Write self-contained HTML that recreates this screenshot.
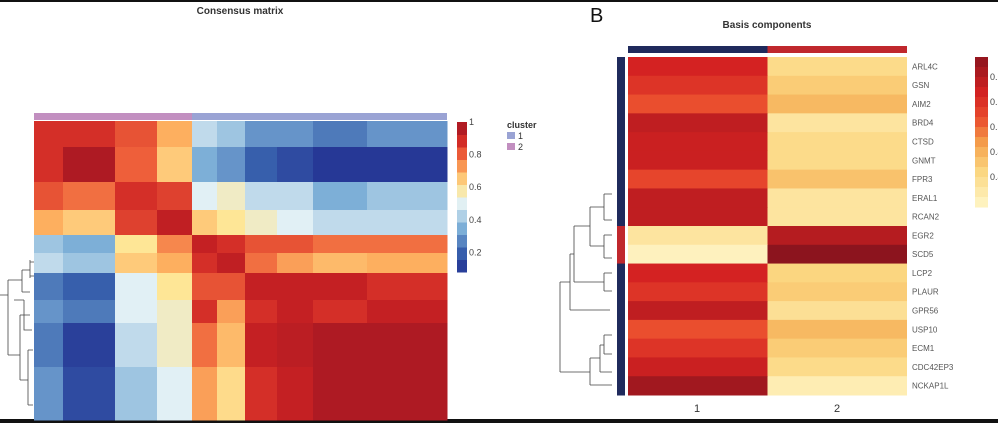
<!DOCTYPE html>
<html><head><meta charset="utf-8">
<style>
html,body{margin:0;padding:0;background:#fff;}
svg{display:block;font-family:"Liberation Sans",Arial,sans-serif;}
</style></head>
<body>
<svg id="fig" width="998" height="423" viewBox="0 0 998 423">
<rect x="0" y="0" width="998" height="2" fill="#111"/>
<rect x="0" y="419" width="998" height="4" fill="#111"/>
<text x="240" y="14" font-size="10" font-weight="bold" text-anchor="middle" fill="#333">Consensus matrix</text>
<g id="cm"></g>
<g id="cmdend" stroke="#444" stroke-width="0.8" fill="none">
<path d="M0,295 H8 M8,280 V355 M8,280 H22 M22,270 V292 M22,270 H30 M22,292 H30 M8,355 H20 M20,315 V380 M20,315 H30 M20,380 H28 M28,350 V405 M28,350 H33 M28,405 H33 M14,300 H24 M24,300 V330 H32 M30,260 V278 M30,262 H34 M30,276 H34"/>
</g>
<g id="cmlegend"></g>
<text x="507" y="128" font-size="9" font-weight="bold" fill="#333">cluster</text>
<rect x="507" y="132" width="8" height="7" fill="#9aa3d4"/>
<text x="518" y="139" font-size="9" fill="#333">1</text>
<rect x="507" y="143" width="8" height="7" fill="#c28fc0"/>
<text x="518" y="150" font-size="9" fill="#333">2</text>

<text x="590" y="22" font-size="20" fill="#111">B</text>
<text x="767" y="28" font-size="10" font-weight="bold" text-anchor="middle" fill="#333">Basis components</text>
<g id="bc"></g>
<g id="bcdend" stroke="#444" stroke-width="0.8" fill="none">
<path d="M604,194 V220 M604,194 H612 M604,220 H612 M604,235 V258 M604,235 H612 M604,258 H612 M590,207 V246 M590,207 H604 M590,246 H604 M604,273 V291 M604,273 H612 M604,291 H612 M574,226 V282 M574,226 H590 M574,282 H604 M570,254 V310 M570,254 H574 M570,310 H610 M604,335 V354 M604,335 H612 M604,354 H612 M600,345 V372 M600,345 H604 M600,372 H612 M590,358 V385 M590,358 H600 M590,385 H612 M560,282 V372 M560,282 H570 M560,372 H590"/>
</g>
<g id="bclegend"></g>
<text x="697" y="412" font-size="11" text-anchor="middle" fill="#333">1</text>
<text x="837" y="412" font-size="11" text-anchor="middle" fill="#333">2</text>
</svg>
<script>
// ---- Consensus matrix data ----
const cmColEdges = [34,63,115,157,192,217,245,277,313,367,447];
const cmRowEdges = [121,147,182,210,235,253,273,300,323,367,420];
const cmRow0 = [0.88,0.88,0.82,0.7,0.45,0.4,0.3,0.3,0.25,0.3];
const cmRow1 = [0.88,0.97,0.8,0.65,0.35,0.3,0.2,0.15,0.1,0.1];
const cmRow2 = [0.82,0.78,0.88,0.85,0.5,0.55,0.45,0.45,0.35,0.4];
const cmRow3 = [0.7,0.65,0.85,0.93,0.65,0.6,0.55,0.5,0.45,0.45];
const cmRow4 = [0.4,0.35,0.6,0.75,0.92,0.88,0.82,0.82,0.78,0.78];
const cmRow5 = [0.45,0.4,0.65,0.7,0.88,0.93,0.78,0.72,0.68,0.7];
const cmRow6 = [0.25,0.2,0.5,0.6,0.82,0.82,0.92,0.92,0.92,0.88];
const cmRow7 = [0.3,0.25,0.5,0.55,0.88,0.72,0.88,0.92,0.88,0.92];
const cmRow8 = [0.25,0.12,0.45,0.55,0.78,0.68,0.92,0.94,0.97,0.97];
const cmRow9 = [0.3,0.15,0.4,0.5,0.72,0.62,0.88,0.92,0.97,0.97];
const cmMatrix = [cmRow0,cmRow1,cmRow2,cmRow3,cmRow4,cmRow5,cmRow6,cmRow7,cmRow8,cmRow9];
const cmTicks = [1,0.8,0.6,0.4,0.2];
const cmTickLabels = ["1","0.8","0.6","0.4","0.2"];
// ---- Basis components data ----
const genes = ["ARL4C","GSN","AIM2","BRD4","CTSD","GNMT","FPR3","ERAL1","RCAN2","EGR2","SCD5","LCP2","PLAUR","GPR56","USP10","ECM1","CDC42EP3","NCKAP1L"];
const basis1 = [0.6,0.58,0.55,0.62,0.61,0.61,0.56,0.62,0.62,0.42,0.39,0.6,0.58,0.62,0.55,0.58,0.61,0.65];
const basis2 = [0.44,0.46,0.48,0.42,0.44,0.44,0.47,0.42,0.42,0.63,0.67,0.45,0.46,0.43,0.48,0.46,0.44,0.40];
const geneGroup = [1,1,1,1,1,1,1,1,1,2,2,1,1,1,1,1,1,1];
const bcTickLabels = ["0.6","0.5","0.5","0.4","0.4"];

const NS="http://www.w3.org/2000/svg";
function mk(tag,attrs,parent){const e=document.createElementNS(NS,tag);for(const k in attrs)e.setAttribute(k,attrs[k]);parent.appendChild(e);return e;}
function lerp(a,b,t){return a+(b-a)*t;}
function scale(stops,v){
  if(v<=stops[0][0])return stops[0][1];
  for(let i=1;i<stops.length;i++){if(v<=stops[i][0]){const t=(v-stops[i-1][0])/(stops[i][0]-stops[i-1][0]);const a=stops[i-1][1],b=stops[i][1];return [Math.round(lerp(a[0],b[0],t)),Math.round(lerp(a[1],b[1],t)),Math.round(lerp(a[2],b[2],t))];}}
  return stops[stops.length-1][1];
}
function toRgb(c){return `rgb(${c[0]},${c[1]},${c[2]})`;}
const cmStops=[[0.08,[35,48,145]],[0.2,[55,95,172]],[0.35,[125,175,215]],[0.5,[225,240,245]],[0.6,[254,230,150]],[0.7,[253,175,95]],[0.8,[238,95,58]],[0.9,[205,35,35]],[1.0,[160,22,35]]];
function cmColor(v){return toRgb(scale(cmStops,v));}

const cm=document.getElementById('cm');
let ab=mk('rect',{x:34,y:113,width:158,height:7,fill:'#c28fc0'},cm);


ab=mk('rect',{x:192,y:113,width:255,height:7,fill:'#9aa3d4'},cm);


for(let r=0;r<cmMatrix.length;r++){
  for(let c=0;c<cmMatrix[r].length;c++){
    const el=mk('rect',{x:cmColEdges[c],y:cmRowEdges[r],width:cmColEdges[c+1]-cmColEdges[c]+0.5,height:cmRowEdges[r+1]-cmRowEdges[r]+0.5,fill:cmColor(cmMatrix[r][c])},cm);
    
    
  }
}
const cl=document.getElementById('cmlegend');
const cbTop=122,cbBot=272,cbMin=0.08,cbMax=1;
const cbY=v=>cbBot-(v-cbMin)/(cbMax-cbMin)*(cbBot-cbTop);
for(let i=0;i<12;i++){
  const v0=cbMin+(cbMax-cbMin)*i/12,v1=cbMin+(cbMax-cbMin)*(i+1)/12;
  const el=mk('rect',{x:457,y:cbY(v1),width:10,height:cbY(v0)-cbY(v1)+0.5,fill:cmColor((v0+v1)/2)},cl);
  
  
}
cmTicks.forEach((t,i)=>{
  const el=mk('text',{x:469,y:cbY(t)+3,'font-size':9,fill:'#444'},cl);
  el.textContent=cmTickLabels[i];
  
  
});

const bcStops=[[0.38,[255,246,200]],[0.45,[251,214,128]],[0.5,[245,165,78]],[0.55,[234,78,46]],[0.6,[212,34,34]],[0.67,[140,20,30]]];
function bcColor(v){return toRgb(scale(bcStops,v));}
const bc=document.getElementById('bc');
const hx0=628,hx1=907,hy0=57,hy1=395,rh=(hy1-hy0)/genes.length,cw=(hx1-hx0)/2;
let tb=mk('rect',{x:hx0,y:46,width:cw,height:7,fill:'#1f2a5c'},bc);


tb=mk('rect',{x:hx0+cw,y:46,width:cw,height:7,fill:'#c0282d'},bc);


genes.forEach((g,i)=>{
  const y=hy0+i*rh;
  const s=mk('rect',{x:617,y:y,width:8,height:rh+0.5,fill:geneGroup[i]===1?'#1f2a5c':'#c0282d'},bc);
  
  
  const a=mk('rect',{x:hx0,y:y,width:cw+0.5,height:rh+0.5,fill:bcColor(basis1[i])},bc);
  
  
  const b=mk('rect',{x:hx0+cw,y:y,width:cw,height:rh+0.5,fill:bcColor(basis2[i])},bc);
  
  
  const t=mk('text',{x:912,y:y+rh/2+3,'font-size':8,fill:'#555'},bc);
  t.textContent=g;
  
  
});
const bl=document.getElementById('bclegend');
for(let i=0;i<15;i++){
  const v=0.67-(0.67-0.38)*(i+0.5)/15;
  const el=mk('rect',{x:975,y:57+i*10,width:13,height:10.5,fill:bcColor(v)},bl);
  
  
}
bcTickLabels.forEach((l,i)=>{
  const el=mk('text',{x:990,y:80+i*25,'font-size':9,fill:'#444'},bl);
  el.textContent=l;
  
  
});
</script>
</body></html>
